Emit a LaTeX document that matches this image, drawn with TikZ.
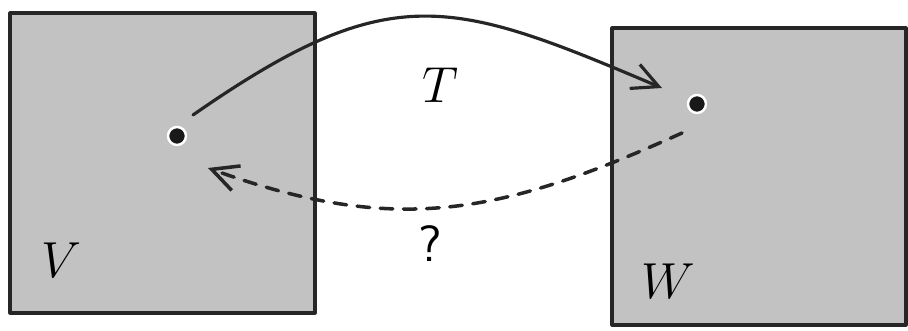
\documentclass[tikz,border=0pt]{standalone}
\usepackage{amsmath}
\usetikzlibrary{arrows.meta}

\begin{document}
\begin{tikzpicture}[x=0.01cm,y=-0.01cm,>={Straight Barb[length=2.6mm,width=2.6mm]},line cap=round,line join=round]
  \useasboundingbox (0,0) rectangle (908,331);
  \tikzset{space/.style={fill=black!24,draw=black!85,line width=0.9pt},
           pnt/.style={fill=black!90,draw=white,line width=0.7pt},
           lbl/.style={font=\fontsize{14.5}{17}\selectfont}}

  \coordinate (v) at (177,136);
  \coordinate (w) at (697,104);

  % the two spaces
  \filldraw[space] (10,13) rectangle (315,313);
  \filldraw[space] (612,28) rectangle (906,325);
  \node[lbl] (lV) at (61,260) {$V$};
  \node[lbl] (lW) at (668,281) {$W$};

  \filldraw[pnt] (v) circle (9);
  \filldraw[pnt] (w) circle (9);

  % the map T and the way back
  \coordinate (ts) at (193,115);
  \coordinate (te) at (662,88);
  \coordinate (qs) at (682,133);
  \coordinate (qe) at (208,168);
  \draw[->,line width=0.9pt,black!85] (ts) .. controls (390,-22) and (450,-2) .. (te);
  \draw[->,line width=1pt,black!85,dash pattern=on 3.6pt off 3pt] (qs) .. controls (500,215) and (396,236) .. (qe);
  \node[lbl] (lT) at (440,85) {$T$};
  \node[lbl,font=\fontsize{14.5}{17}\sffamily] (lq) at (430,244) {?};
\end{tikzpicture}
\end{document}
